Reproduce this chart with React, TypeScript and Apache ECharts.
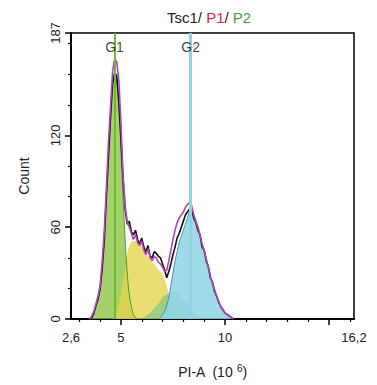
import React, { useEffect, useRef } from "react";
import * as echarts from "echarts";

// DNA content histogram (PI-A, 10^6) – counts per bin
const binX = [
  3.5, 3.6, 3.7, 3.8, 3.9,
  4.0, 4.1, 4.2, 4.3, 4.4, 4.5, 4.6, 4.7, 4.8, 4.9,
  5.0, 5.1, 5.2, 5.3, 5.4, 5.5, 5.6, 5.7, 5.8, 5.9,
  6.0, 6.1, 6.2, 6.3, 6.4, 6.5, 6.6, 6.7, 6.8, 6.9,
  7.0, 7.1, 7.2, 7.3, 7.4, 7.5, 7.6, 7.7, 7.8, 7.9,
  8.0, 8.1, 8.2, 8.3, 8.4, 8.5, 8.6, 8.7, 8.8, 8.9,
  9.0, 9.1, 9.2, 9.3, 9.4, 9.5, 9.6, 9.7, 9.8, 9.9,
  10.0, 10.1, 10.2, 10.3, 10.4,
];
const tsc1Counts = [
  0, 1, 4, 9, 13,
  20, 33, 52, 80, 106, 132, 154, 161, 159, 142,
  118, 92, 72, 62, 64, 57, 55, 58, 52, 49,
  53, 47, 44, 48, 41, 40, 44, 43, 41, 40,
  36, 32, 27, 31, 36, 42, 47, 53, 56, 60,
  64, 68, 70, 72, 71, 66, 63, 58, 55, 47,
  45, 38, 34, 27, 24, 18, 15, 11, 8, 6,
  4, 3, 2, 1, 0,
];
const fitCounts = [
  0, 2, 5, 10, 15,
  22, 38, 58, 86, 116, 139, 162, 170, 168, 156,
  128, 95, 74, 64, 60, 56, 52, 55, 50, 48,
  51, 45, 42, 46, 40, 38, 41, 40, 37, 36,
  34, 31, 32, 38, 45, 52, 58, 63, 66, 68,
  70, 73, 75, 76, 74, 68, 64, 60, 55, 49,
  45, 39, 34, 28, 23, 19, 15, 11, 8, 6,
  4, 3, 2, 1, 0,
];

// model components
const g1X = [3.6, 3.7, 3.8, 3.9, 4.0, 4.1, 4.2, 4.3, 4.4, 4.5, 4.6, 4.7, 4.8, 4.9, 5.0, 5.1, 5.2, 5.3, 5.4, 5.5, 5.6, 5.7, 5.8];
const g1Counts = [0, 3, 8, 13, 20, 34, 54, 82, 110, 135, 155, 161, 156, 138, 110, 80, 52, 30, 16, 8, 3, 1, 0];

const sX = [4.6, 4.7, 4.8, 4.9, 5.0, 5.1, 5.2, 5.3, 5.4, 5.5, 5.6, 5.7, 5.8, 5.9, 6.0, 6.1, 6.2, 6.3, 6.4, 6.5, 6.6, 6.7, 6.8, 6.9, 7.0, 7.1, 7.2, 7.3, 7.4, 7.5];
const sCounts = [0, 2, 5, 10, 16, 25, 34, 42, 48, 50, 51, 51, 50, 49, 47, 45, 43, 41, 39, 37, 36, 34, 32, 31, 29, 26, 22, 14, 5, 0];

const s2X = [6.0, 6.2, 6.4, 6.6, 6.8, 7.0, 7.2, 7.4, 7.6, 7.8, 8.0, 8.2, 8.4, 8.6, 8.8, 9.0];
const s2Counts = [0, 2, 4, 7, 10, 14, 16, 18, 18, 16, 13, 10, 6, 3, 1, 0];

const g2X = [
  6.8, 6.9, 7.0, 7.1, 7.2, 7.3, 7.4, 7.5, 7.6, 7.7, 7.8, 7.9,
  8.0, 8.1, 8.2, 8.3, 8.4, 8.5, 8.6, 8.7, 8.8, 8.9,
  9.0, 9.1, 9.2, 9.3, 9.4, 9.5, 9.6, 9.7, 9.8, 9.9,
  10.0, 10.1, 10.2, 10.3, 10.4,
];
const g2Counts = [
  0, 1, 3, 5, 9, 14, 22, 30, 38, 44, 50, 54,
  58, 62, 66, 70, 71, 68, 63, 59, 55, 49,
  45, 39, 34, 28, 23, 19, 15, 11, 8, 6,
  4, 3, 2, 1, 0,
];

const gateNames = ["G1", "G2"];
const gatePositions = [4.69, 8.35];
const gateLabelY = 178;

const xMin = 2.6;
const xMax = 16.2;
const xLabelValues = [2.6, 5, 10, 16.2];
const xMajorTicks = [5, 10, 15];
const xMinorTicks = [3, 4, 6, 7, 8, 9, 11, 12, 13, 14, 16];
const yMax = 187;
const yLabelValues = [0, 60, 120, 187];
const yMinorTicks = [20, 40, 80, 100, 140, 160, 180];

const FONT = "Liberation Sans, Arial, Helvetica, sans-serif";

const pairs = (xs: number[], ys: number[]) => xs.map((x, i) => [x, ys[i]]);

export default function App() {
  const ref = useRef<HTMLDivElement>(null);
  useEffect(() => {
    if (!ref.current) return;
    const chart = echarts.init(ref.current, null, { renderer: "svg" });
    const fill = (name: string, xs: number[], ys: number[], color: string, opacity: number, lineColor: string, lineWidth: number) => ({
      name,
      type: "line",
      data: pairs(xs, ys),
      symbol: "none",
      smooth: 0.3,
      silent: true,
      lineStyle: { color: lineColor, width: lineWidth },
      areaStyle: { color, opacity },
    });
    chart.setOption({
      animation: false,
      backgroundColor: "#fff",
      title: {
        text: "{k|Tsc1/ }{r|P1}{k|/ }{g|P2}",
        left: 162,
        top: 5,
        textStyle: {
          fontFamily: FONT,
          fontSize: 15,
          fontWeight: "normal",
          rich: {
            k: { color: "#222", fontSize: 15, fontFamily: FONT },
            r: { color: "#e8203a", fontSize: 15, fontFamily: FONT },
            g: { color: "#4e9a3c", fontSize: 15, fontFamily: FONT },
          },
        },
      },
      grid: {
        left: 71,
        right: 23,
        top: 33,
        bottom: 66,
        show: true,
        borderColor: "#000",
        borderWidth: 1.5,
        backgroundColor: "transparent",
      },
      xAxis: [
        {
          type: "value",
          min: xMin,
          max: xMax,
          position: "bottom",
          name: "{a|PI-A  (10 }{s|6}{a|)}",
          nameLocation: "middle",
          nameGap: 44,
          nameTextStyle: {
            rich: {
              a: { fontFamily: FONT, fontSize: 14, color: "#222", lineHeight: 18 },
              s: { fontFamily: FONT, fontSize: 10, color: "#222", verticalAlign: "top", lineHeight: 12 },
            },
          },
          axisLine: { show: true, lineStyle: { color: "#000", width: 2 } },
          axisTick: { show: true, customValues: xMajorTicks, length: 6, lineStyle: { color: "#000", width: 1.5 } },
          axisLabel: {
            customValues: xLabelValues,
            margin: 12,
            fontFamily: FONT,
            fontSize: 13,
            color: "#222",
            formatter: (v: number) => String(v).replace(".", ","),
          },
          splitLine: { show: false },
        },
        {
          type: "value",
          min: xMin,
          max: xMax,
          position: "bottom",
          axisLine: { show: false },
          axisTick: { show: true, customValues: xMinorTicks, length: 3, lineStyle: { color: "#000", width: 1.2 } },
          axisLabel: { show: false },
          splitLine: { show: false },
        },
      ],
      yAxis: [
        {
          type: "value",
          min: 0,
          max: yMax,
          position: "left",
          name: "Count",
          nameLocation: "middle",
          nameGap: 40,
          nameTextStyle: { fontFamily: FONT, fontSize: 14, color: "#222" },
          axisLine: { show: true, lineStyle: { color: "#000", width: 2 } },
          axisTick: { show: true, customValues: yLabelValues, length: 6, lineStyle: { color: "#000", width: 1.5 } },
          axisLabel: {
            customValues: yLabelValues,
            rotate: 90,
            margin: 9,
            fontFamily: FONT,
            fontSize: 13,
            color: "#222",
          },
          splitLine: { show: false },
        },
        {
          type: "value",
          min: 0,
          max: yMax,
          position: "left",
          axisLine: { show: false },
          axisTick: { show: true, customValues: yMinorTicks, length: 3, lineStyle: { color: "#000", width: 1.2 } },
          axisLabel: { show: false },
          splitLine: { show: false },
        },
      ],
      series: [
        fill("G1", g1X, g1Counts, "#86c23a", 0.75, "#4f9a2c", 1),
        fill("S", sX, sCounts, "#e4d44a", 0.78, "#e4d44a", 0),
        fill("S2", s2X, s2Counts, "#6cc48e", 0.6, "#6cc48e", 0),
        fill("G2", g2X, g2Counts, "#8fd3e2", 0.85, "#4a8fbf", 1),
        {
          name: "gates",
          type: "line",
          data: [],
          silent: true,
          markLine: {
            silent: true,
            symbol: ["none", "none"],
            label: { show: false },
            data: [
              { xAxis: gatePositions[0], lineStyle: { color: "#6cbb2f", width: 2, type: "solid" } },
              { xAxis: gatePositions[1], lineStyle: { color: "#92d3e3", width: 3, type: "solid" } },
            ],
          },
        },
        {
          name: "Tsc1",
          type: "line",
          data: pairs(binX, tsc1Counts),
          symbol: "none",
          silent: true,
          lineStyle: { color: "#111", width: 1.6 },
        },
        {
          name: "fit",
          type: "line",
          data: pairs(binX, fitCounts),
          symbol: "none",
          silent: true,
          lineStyle: { color: "#b044b8", width: 1.6 },
        },
        {
          name: "gateLabels",
          type: "scatter",
          symbolSize: 0,
          silent: true,
          z: 10,
          data: gateNames.map((n, i) => ({ name: n, value: [gatePositions[i], gateLabelY] })),
          label: {
            show: true,
            position: "inside",
            formatter: (p: any) => p.name,
            fontFamily: FONT,
            fontSize: 14,
            color: "#111",
            textBorderWidth: 0,
          },
        },
      ],
    });
    return () => chart.dispose();
  }, []);
  return <div ref={ref} style={{ position: "fixed", left: 0, top: 0, width: 377, height: 385 }} />;
}
